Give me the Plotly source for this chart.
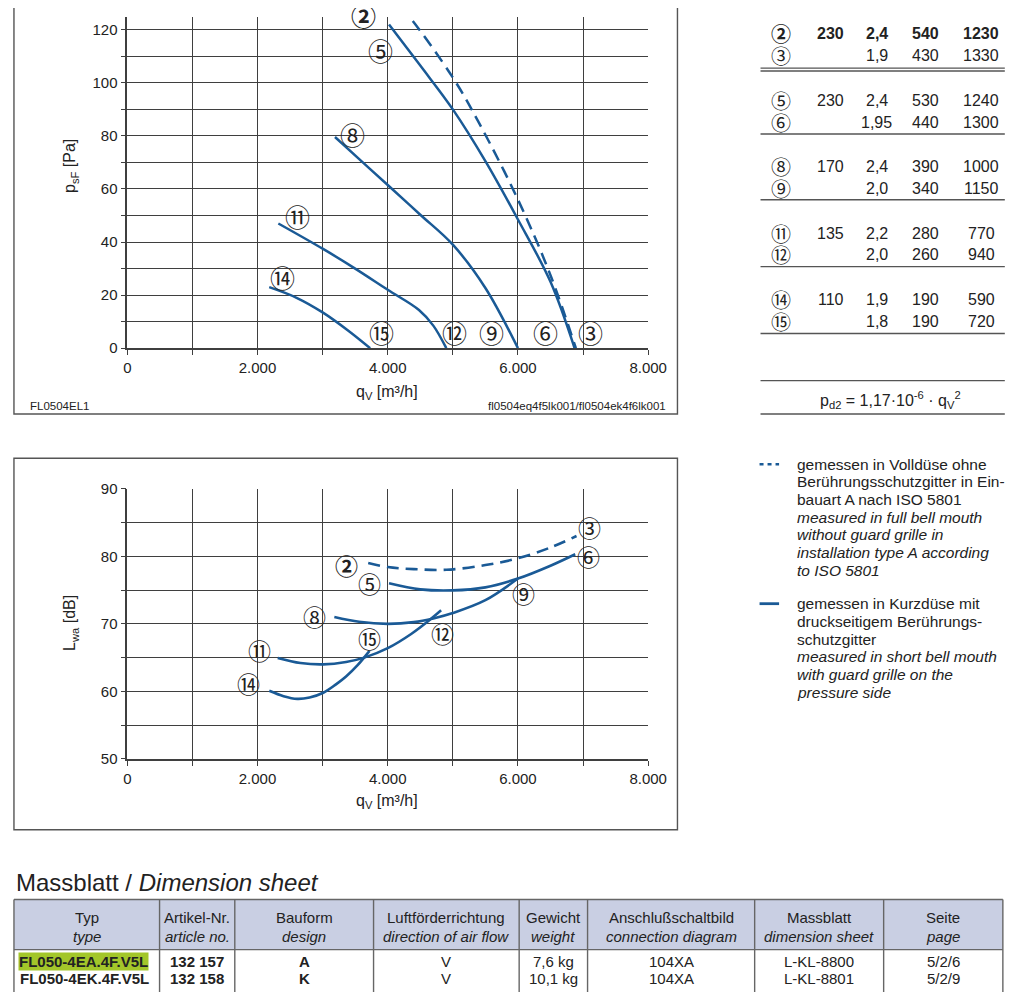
import plotly.graph_objects as go

# ---- p_sF over q_V (top chart) ----
q_p_23 = [4000, 4285, 5000, 5400, 6000, 6500, 6890]
p_23 = [134, 126.4, 102, 85, 56, 27.5, 0]
q_p_56 = [4020, 4500, 5000, 5500, 6000, 6500, 6870]
p_56 = [122, 106.5, 90, 70.5, 48.5, 25, 0]
q_p_89 = [3190, 3600, 4000, 4500, 5000, 5500, 6000]
p_89 = [79.6, 70.4, 61.5, 50.3, 39, 22.7, 0]
q_p_1112 = [2320, 3000, 3500, 4000, 4480, 4700, 4900]
p_1112 = [47, 37.5, 30, 22, 14.4, 8.5, 0]
q_p_1415 = [2180, 2600, 3000, 3400, 3730]
p_1415 = [23, 19, 13.5, 6.5, 0]

# ---- L_wa over q_V (bottom chart) ----
q_l_23 = [3700, 4000, 4400, 4900, 5500, 6000, 6500, 6900]
l_23 = [79.0, 78.4, 78.1, 78.0, 78.7, 79.7, 81.3, 83.0]
q_l_56 = [4020, 4500, 5000, 5500, 6000, 6500, 6880]
l_56 = [76.0, 75.1, 74.95, 75.4, 76.7, 78.6, 80.3]
q_l_89 = [3180, 3560, 4000, 4400, 4700, 5000, 5500, 6000]
l_89 = [71.0, 70.3, 70.0, 70.25, 70.8, 71.6, 73.5, 76.7]
q_l_1112 = [2310, 2660, 3010, 3360, 3640, 4000, 4360, 4660, 4820]
l_1112 = [64.95, 64.2, 64.0, 64.35, 65.0, 66.4, 68.5, 70.7, 72.0]
q_l_1415 = [2180, 2400, 2610, 2800, 3010, 3200, 3360, 3530, 3720]
l_1415 = [60.1, 59.3, 58.9, 59.1, 59.8, 61.0, 62.2, 63.8, 66.0]

# circled curve labels
lbl_top = ["⑤", "⑧", "⑪", "⑭", "⑮", "⑫", "⑨", "⑥", "③"]
lbl_top_q = [3890, 3460, 2620, 2380, 3900, 5020, 5590, 6430, 7110]
lbl_top_p = [112.2, 80.9, 49.8, 26.7, 6, 6, 6, 6, 6]
lbl_bot = ["②", "③", "⑤", "⑥", "⑧", "⑨", "⑪", "⑫", "⑭", "⑮"]
lbl_bot_q = [3373, 7100, 3723, 7080, 2872, 6079, 2027, 4838, 1862, 3727]
lbl_bot_l = [78.65, 84.3, 76.0, 80.0, 71.1, 74.5, 66.2, 68.7, 61.2, 67.9]

# operating points table (right)
tab_no = ["②", "③", "⑤", "⑥", "⑧", "⑨", "⑪", "⑫", "⑭", "⑮"]
tab_u = ["230", "", "230", "", "170", "", "135", "", "110", ""]
tab_i = ["2,4", "1,9", "2,4", "1,95", "2,4", "2,0", "2,2", "2,0", "1,9", "1,8"]
tab_p = ["540", "430", "530", "440", "390", "340", "280", "260", "190", "190"]
tab_n = ["1230", "1330", "1240", "1300", "1000", "1150", "770", "940", "590", "720"]

# dimension sheet table
hdr_de = ["Typ", "Artikel-Nr.", "Bauform", "Luftförderrichtung", "Gewicht",
          "Anschlußschaltbild", "Massblatt", "Seite"]
hdr_en = ["type", "article no.", "design", "direction of air flow", "weight",
          "connection diagram", "dimension sheet", "page"]
row1 = ["FL050-4EA.4F.V5L", "132 157", "A", "V", "7,6 kg", "104XA", "L-KL-8800", "5/2/6"]
row2 = ["FL050-4EK.4F.V5L", "132 158", "K", "V", "10,1 kg", "104XA", "L-KL-8801", "5/2/9"]

x_ticks = list(range(0, 8001, 1000))
x_text = ["0", "", "2.000", "", "4.000", "", "6.000", "", "8.000"]
p_ticks = list(range(0, 121, 10))
p_text = [str(v) if v % 20 == 0 else "" for v in p_ticks]
l_ticks = list(range(50, 91, 5))
l_text = [str(v) if v % 10 == 0 else "" for v in l_ticks]

FONT = "Liberation Sans, Arial, sans-serif"
CIRC = "Noto Sans CJK JP, DejaVu Sans, sans-serif"
BLUE = "#1a5a96"
GRID = "#3f3f3f"
INK = "#222222"
DASH = "12px,7px"
# the page body keeps its default 8px margin, so the figure is drawn 16px smaller
OFF = 8
W, H = 1024 - 2 * OFF, 1000 - 2 * OFF


def PX(x):
    return (x - OFF) / W


def PY(y):
    return 1 - (y - OFF) / H


fig = go.Figure()

top = [(q_p_23, p_23, DASH), (q_p_56, p_56, "solid"), (q_p_89, p_89, "solid"),
       (q_p_1112, p_1112, "solid"), (q_p_1415, p_1415, "solid")]
for qx, py_, d in top:
    fig.add_trace(go.Scatter(x=qx, y=py_, mode="lines", line_shape="spline",
                             line=dict(color=BLUE, width=2.5, dash=d),
                             xaxis="x", yaxis="y", showlegend=False, hoverinfo="skip"))

bot = [(q_l_23, l_23, DASH), (q_l_56, l_56, "solid"), (q_l_89, l_89, "solid"),
       (q_l_1112, l_1112, "solid"), (q_l_1415, l_1415, "solid")]
for qx, ly, d in bot:
    fig.add_trace(go.Scatter(x=qx, y=ly, mode="lines", line_shape="spline",
                             line=dict(color=BLUE, width=2.6, dash=d),
                             xaxis="x2", yaxis="y2", showlegend=False, hoverinfo="skip"))

axis_common = dict(showgrid=True, gridcolor=GRID, gridwidth=1.3, showline=True,
                   linecolor=GRID, linewidth=1.6, ticks="outside", ticklen=5,
                   tickcolor=GRID, tickwidth=1.3, zeroline=False,
                   tickfont=dict(family=FONT, size=15, color=INK))

# 20 Pa = 54 px, plot bottom (0 Pa) at y=345 px
p_top = (345 - OFF) * 20 / 54

xdom = [PX(126), PX(659)]
fig.update_layout(
    width=W, height=H, margin=dict(l=0, r=0, t=0, b=0),
    paper_bgcolor="white", plot_bgcolor="white",
    xaxis=dict(domain=xdom, range=[0, 8000], tickvals=x_ticks, ticktext=x_text,
               anchor="y", **axis_common),
    yaxis=dict(domain=[PY(345), 1.0], range=[0, p_top], tickvals=p_ticks,
               ticktext=p_text, anchor="x", **axis_common),
    xaxis2=dict(domain=xdom, range=[0, 8000], tickvals=x_ticks, ticktext=x_text,
                anchor="y2", **axis_common),
    yaxis2=dict(domain=[PY(763), PY(488)], range=[50, 90], tickvals=l_ticks,
                ticktext=l_text, anchor="x2", **axis_common),
)

ann = []
shapes = []


def txt(x, y, s, size=15, xanchor="center", bold=False, italic=False,
        family=FONT, color=INK, angle=0, bg=None):
    if not s:
        return
    if bold:
        s = "<b>" + s + "</b>"
    if italic:
        s = "<i>" + s + "</i>"
    a = dict(x=PX(x), y=PY(y), xref="paper", yref="paper", text=s, showarrow=False,
             xanchor=xanchor, yanchor="middle", textangle=angle,
             font=dict(family=family, size=size, color=color))
    if bg:
        a.update(bgcolor=bg, borderpad=0)
    ann.append(a)


def hline(x0, x1, y, color="#555555", width=1.4):
    shapes.append(dict(type="line", xref="paper", yref="paper", x0=PX(x0), x1=PX(x1),
                       y0=PY(y), y1=PY(y), line=dict(color=color, width=width)))


def vline(x, y0, y1, color="#555555", width=1.4):
    shapes.append(dict(type="line", xref="paper", yref="paper", x0=PX(x), x1=PX(x),
                       y0=PY(y0), y1=PY(y1), line=dict(color=color, width=width)))


# chart frames
shapes.append(dict(type="rect", xref="paper", yref="paper", x0=PX(10), x1=PX(689),
                   y0=PY(412), y1=PY(-10), line=dict(color="#555555", width=1.4)))
shapes.append(dict(type="rect", xref="paper", yref="paper", x0=PX(10), x1=PX(689),
                   y0=PY(835), y1=PY(457), line=dict(color="#555555", width=1.4)))

# circled labels in charts
for s, q, p in zip(lbl_top, lbl_top_q, lbl_top_p):
    ann.append(dict(x=q, y=p, xref="x", yref="y", text=s, showarrow=False,
                    font=dict(family=CIRC, size=25, color=INK)))
for s, q, l in zip(lbl_bot, lbl_bot_q, lbl_bot_l):
    t = "<b>" + s + "</b>" if s == "②" else s
    ann.append(dict(x=q, y=l, xref="x2", yref="y2", text=t, showarrow=False,
                    font=dict(family=CIRC, size=23, color=INK)))
# the bold (2) of the top chart is cut by the page edge
txt(368, 6, "②", size=25, family=CIRC, bold=True)

# axis titles and chart notes
txt(68, 160, "p<sub>sF</sub> [Pa]", size=16, angle=-90)
txt(392, 390, "q<sub>V</sub> [m³/h]", size=16)
txt(24, 404, "FL0504EL1", size=11.5, xanchor="left")
txt(679, 404, "fl0504eq4f5lk001/fl0504ek4f6lk001", size=11.5, xanchor="right")
txt(68, 625, "L<sub>wa</sub> [dB]", size=16, angle=-90)
txt(392, 806, "q<sub>V</sub> [m³/h]", size=16)

# operating points table
row_y = [25, 47, 93, 115, 160, 183, 228, 250, 295, 318]
for i, y in enumerate(row_y):
    b = i == 0
    txt(795, y, tab_no[i], size=20, family=CIRC, bold=b)
    txt(846, y, tab_u[i], size=16, bold=b)
    txt(893, y, tab_i[i], size=16, bold=b)
    txt(943, y, tab_p[i], size=16, bold=b)
    txt(1000, y, tab_n[i], size=16, bold=b)
for y in [60, 63, 127, 194, 262, 330, 378, 412]:
    hline(774, 1024, y)
txt(907, 398, "p<sub>d2</sub> = 1,17·10<sup>-6</sup> · q<sub>V</sub><sup>2</sup>", size=16)

# legend
shapes.append(dict(type="line", xref="paper", yref="paper", x0=PX(773), x1=PX(793),
                   y0=PY(463), y1=PY(463),
                   line=dict(color=BLUE, width=2.5, dash="4px,4px")))
shapes.append(dict(type="line", xref="paper", yref="paper", x0=PX(773), x1=PX(793),
                   y0=PY(605), y1=PY(605), line=dict(color=BLUE, width=2.8)))
leg1 = [("gemessen in Volldüse ohne", False), ("Berührungsschutzgitter in Ein-", False),
        ("bauart A nach ISO 5801", False), ("measured in full bell mouth", True),
        ("without guard grille in", True), ("installation type A according", True),
        ("to ISO 5801", True)]
leg2 = [("gemessen in Kurzdüse mit", False), ("druckseitigem Berührungs-", False),
        ("schutzgitter", False), ("measured in short bell mouth", True),
        ("with guard grille on the", True), ("pressure side", True)]
for k, (s, it) in enumerate(leg1):
    txt(809, 463 + k * 18, s, size=15.5, xanchor="left", italic=it)
for k, (s, it) in enumerate(leg2):
    txt(809, 605 + k * 18, s, size=15.5, xanchor="left", italic=it)

# dimension sheet
txt(10, 889, "Massblatt / <i>Dimension sheet</i>", size=24, xanchor="left")
shapes.append(dict(type="rect", xref="paper", yref="paper", x0=PX(10), x1=PX(1022),
                   y0=PY(957), y1=PY(906), fillcolor="#c9cfe3", line=dict(width=0),
                   layer="below"))
col_x = [10, 159, 236, 378, 527, 597, 768, 900, 1022]
hline(10, 1022, 906, color="#666666")
hline(10, 1022, 957, color="#666666")
for x in col_x:
    vline(x, 906, 1002, color="#666666")
for k in range(8):
    cx = (col_x[k] + col_x[k + 1]) / 2
    txt(cx, 924, hdr_de[k], size=15)
    txt(cx, 944, hdr_en[k], size=15, italic=True)
    if k == 0:
        txt(14, 969, row1[k], size=15, xanchor="left", bold=True, bg="#a3c62a")
        txt(14, 986, row2[k], size=15, xanchor="left", bold=True)
    else:
        txt(cx, 969, row1[k], size=15, bold=k < 3)
        txt(cx, 986, row2[k], size=15, bold=k < 3)

fig.update_layout(annotations=ann, shapes=shapes)
fig.write_html("out.html")
